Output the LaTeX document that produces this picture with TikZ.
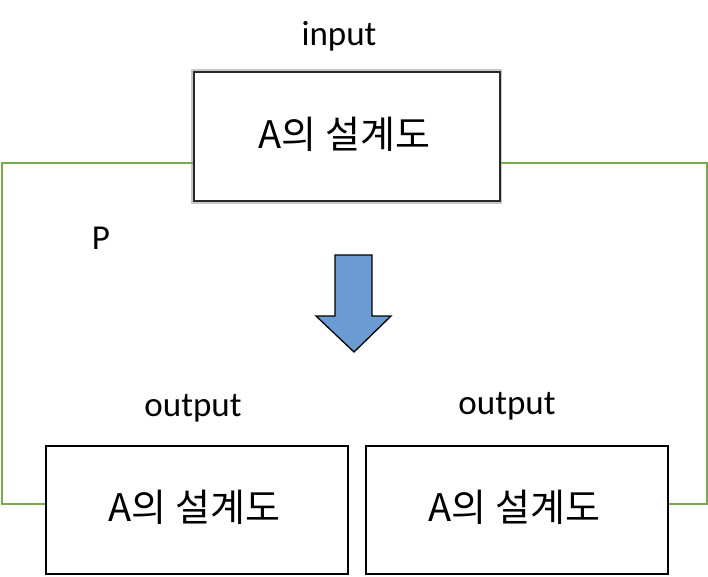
\documentclass[tikz,border=0pt]{standalone}
\usepackage{fontspec}
\setmainfont{Carlito}
\newfontfamily\kr{Noto Sans CJK KR}
\usetikzlibrary{calc}
\definecolor{linkgreen}{RGB}{122,168,76}
\definecolor{arrowblue}{RGB}{106,155,211}
\definecolor{boxgray}{RGB}{40,40,40}
\tikzset{
  planbox/.style={draw=black, line width=2pt, minimum width=302pt, minimum height=128pt,
    inner sep=0pt},
  srcbox/.style={planbox, draw=boxgray, minimum width=306pt, minimum height=129pt},
  halo/.style={draw=black!22, line width=4pt},
  plantext/.style={font=\kr\fontsize{38}{44}\selectfont, inner sep=0pt},
  caption/.style={font=\fontsize{35}{40}\selectfont, inner sep=0pt},
  link/.style={draw=linkgreen, line width=2pt},
  flowarrow/.style={fill=arrowblue, draw=black, line width=1.3pt, line join=miter}
}
\begin{document}
\begin{tikzpicture}[x=1pt, y=-1pt]
  \useasboundingbox (0,0) rectangle (708,576);
  \fill[white] (0,0) rectangle (708,576);

  % source design (top)
  \draw[halo] (193,71) rectangle (500,202);
  \node[srcbox, fill=white] (src) at (346.5,136.5) {};
  \node[plantext] (srct) at (344.5,134) {A의 설계도};
  \node[caption] (lin) at (339,36) {input};

  % the two outputs
  \node[planbox] (outl) at (197,510) {};
  \node[planbox] (outr) at (517,510) {};
  \node[plantext] (outlt) at (194.5,507) {A의 설계도};
  \node[plantext] (outrt) at (514.5,507) {A의 설계도};
  \node[caption] (loutl) at (193,408) {output};
  \node[caption] (loutr) at (507,406) {output};

  \node[caption] (lp) at (101,238) {P};

  % green connections from the source to both outputs
  \coordinate (lt) at (2,163);
  \coordinate (lb) at (2,504);
  \coordinate (rt) at (707,163);
  \coordinate (rb) at (707,504);
  \draw[link] (src.west |- lt) -- (lt) -- (lb) -- (outl.west |- lb);
  \draw[link] (src.east |- rt) -- (rt) -- (rb) -- (outr.east |- rb);

  % block arrow
  \draw[flowarrow] (335,255) -- (372,255) -- (372,316) -- (391,316) -- (354,352)
    -- (316,316) -- (335,316) -- cycle;
\end{tikzpicture}
\end{document}
